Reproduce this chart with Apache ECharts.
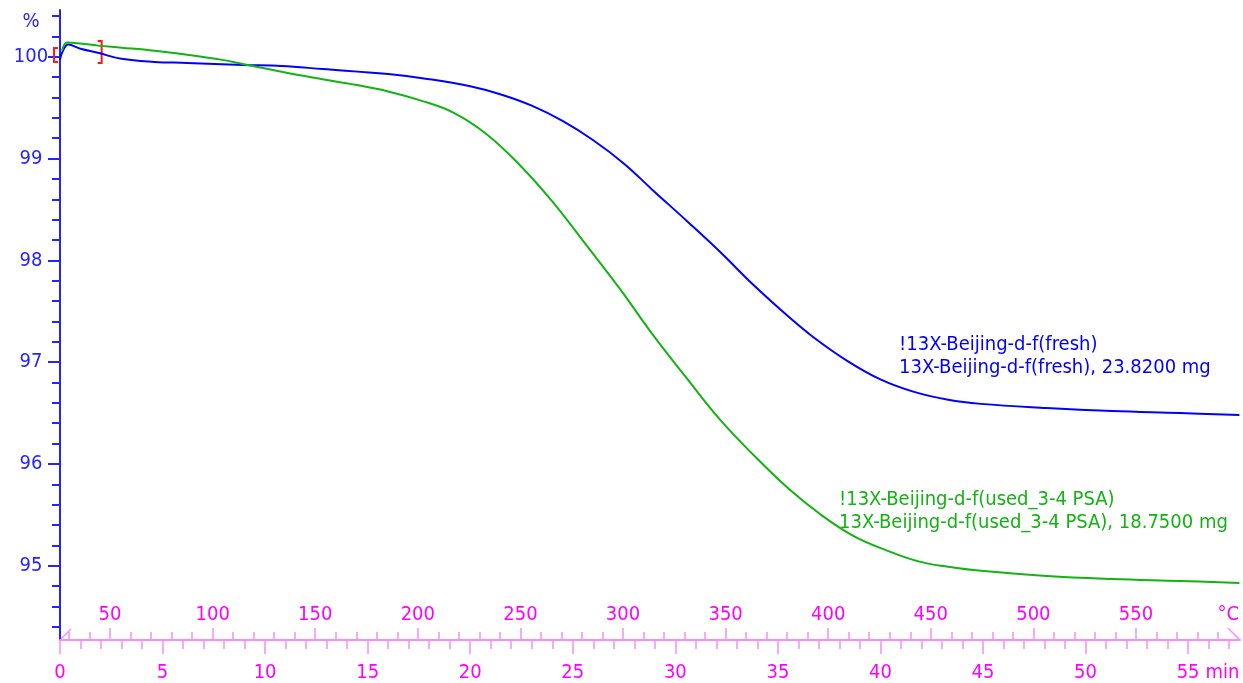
<!DOCTYPE html>
<html>
<head>
<meta charset="utf-8">
<script src="https://cdn.jsdelivr.net/npm/echarts@6/dist/echarts.min.js"></script>
<style>
  html, body { margin: 0; padding: 0; background: #ffffff; }
  #chart { width: 1243px; height: 683px; }
</style>
</head>
<body>
<div id="chart"></div>
<script>
// TGA mass curves (mass % against time in min, heating at 10 °C/min)
const freshTime = [0, 0.1, 0.4, 1.0, 1.85, 3.0, 4.6, 6.2, 8.9, 10.8, 12.8, 16.0, 18.0, 20.0, 21.5, 23.0, 24.5, 26.0, 27.5, 28.9, 30.6, 32.2, 33.8, 35.5, 36.7, 38.4, 40.0, 41.6, 43.3, 44.9, 48.1, 51.3, 54.6, 57.5];
const freshMass = [99.97, 100.04, 100.12, 100.08, 100.04, 99.98, 99.95, 99.94, 99.92, 99.91, 99.88, 99.83, 99.78, 99.71, 99.63, 99.52, 99.37, 99.18, 98.95, 98.69, 98.38, 98.08, 97.76, 97.45, 97.25, 97.01, 96.83, 96.71, 96.63, 96.59, 96.55, 96.52, 96.50, 96.48];

const usedTime = [0.1, 0.35, 1.0, 1.85, 3.0, 4.6, 6.2, 7.9, 8.9, 11.1, 12.8, 14.4, 16.0, 17.6, 19.2, 20.8, 22.4, 24.0, 25.7, 27.3, 28.9, 30.6, 32.2, 33.8, 35.5, 37.1, 38.7, 40.3, 41.9, 43.3, 44.9, 48.1, 51.3, 54.6, 57.5];
const usedMass = [100.06, 100.14, 100.13, 100.11, 100.09, 100.06, 100.02, 99.97, 99.93, 99.84, 99.78, 99.725, 99.66, 99.57, 99.45, 99.24, 98.94, 98.58, 98.14, 97.72, 97.27, 96.83, 96.43, 96.09, 95.76, 95.50, 95.29, 95.15, 95.04, 94.99, 94.95, 94.90, 94.87, 94.85, 94.83];

// Axis ticks
const massTicks = [95, 96, 97, 98, 99, 100];
const timeTicks = [0, 5, 10, 15, 20, 25, 30, 35, 40, 45, 50, 55];
const tempTicks = [50, 100, 150, 200, 250, 300, 350, 400, 450, 500, 550];

// Axis ranges
const timeRange = [0, 57.53];
const tempRange = [25.6, 600.7];
const massRange = [94.27, 100.46];

// Evaluation range brackets: time, low %, high %, serif direction
const brackets = [[-0.29, 99.95, 100.087, 1], [2.03, 99.94, 100.156, -1]];

// Curve captions and where they sit (time, mass %)
const freshCaption = ['!13X-Beijing-d-f(fresh)', '13X-Beijing-d-f(fresh), 23.8200 mg'];
const usedCaption = ['!13X-Beijing-d-f(used_3-4 PSA)', '13X-Beijing-d-f(used_3-4 PSA), 18.7500 mg'];
const freshCaptionAt = [40.91, 97.06];
const usedCaptionAt = [37.98, 95.53];

const FONT = "'DejaVu Sans Condensed', 'DejaVu Sans', sans-serif";
const BLUE = '#0000ff';
const BLUE_AXIS = '#2424ff';
const GREEN = '#12b312';
const PINK_TEXT = '#ff00ff';
const PINK_LINE = '#f58ef5';
const RED = '#ff1a1a';

function minorBetween(major, step, range) {
  const out = [];
  const lo = Math.ceil(range[0] / step) * step;
  for (let v = lo; v <= range[1] + 1e-9; v += step) {
    const r = Math.round(v * 1000) / 1000;
    if (!major.some(m => Math.abs(m - r) < 1e-6)) out.push(r);
  }
  return out;
}
const massMinor = minorBetween(massTicks, 0.2, massRange);
const timeMinor = minorBetween(timeTicks, 1, timeRange);
const tempMinor = minorBetween(tempTicks.concat([600]), 10, tempRange);

const pairs = (xs, ys) => xs.map((x, i) => [x, ys[i]]);

const chart = echarts.init(document.getElementById('chart'));

const option = {
  animation: false,
  backgroundColor: '#ffffff',
  grid: { left: 60, right: 3, top: 10, bottom: 42, containLabel: false },
  xAxis: [
    {
      // time, major ticks and labels below the line
      type: 'value', position: 'bottom', min: timeRange[0], max: timeRange[1],
      axisLine: { show: true, lineStyle: { color: PINK_LINE, width: 2 } },
      axisTick: { show: true, inside: false, length: 14, customValues: timeTicks, lineStyle: { color: PINK_LINE, width: 1.5 } },
      axisLabel: { show: true, customValues: timeTicks, margin: 23, color: PINK_TEXT, fontFamily: FONT, fontSize: 20 },
      splitLine: { show: false },
      name: 'min', nameLocation: 'end', nameGap: 0,
      nameTextStyle: { color: PINK_TEXT, fontFamily: FONT, fontSize: 20, align: 'right', verticalAlign: 'top', padding: [23, 2, 0, 0] }
    },
    {
      // time, minor ticks
      type: 'value', position: 'bottom', min: timeRange[0], max: timeRange[1],
      axisLine: { show: false },
      axisTick: { show: true, inside: false, length: 9, customValues: timeMinor, lineStyle: { color: PINK_LINE, width: 1.5 } },
      axisLabel: { show: false },
      splitLine: { show: false }
    },
    {
      // temperature, major ticks and labels above the line
      type: 'value', position: 'bottom', min: tempRange[0], max: tempRange[1],
      axisLine: { show: false },
      axisTick: { show: true, inside: true, length: 12, customValues: tempTicks, lineStyle: { color: PINK_LINE, width: 1.5 } },
      axisLabel: { show: true, inside: true, customValues: tempTicks, margin: 15, color: PINK_TEXT, fontFamily: FONT, fontSize: 20 },
      splitLine: { show: false },
      name: '°C', nameLocation: 'end', nameGap: 0,
      nameTextStyle: { color: PINK_TEXT, fontFamily: FONT, fontSize: 20, align: 'right', verticalAlign: 'bottom', padding: [0, 1, 15, 0] }
    },
    {
      // temperature, minor ticks
      type: 'value', position: 'bottom', min: tempRange[0], max: tempRange[1],
      axisLine: { show: false },
      axisTick: { show: true, inside: true, length: 8, customValues: tempMinor, lineStyle: { color: PINK_LINE, width: 1.5 } },
      axisLabel: { show: false },
      splitLine: { show: false }
    }
  ],
  yAxis: [
    {
      type: 'value', position: 'left', min: massRange[0], max: massRange[1],
      axisLine: { show: true, lineStyle: { color: BLUE_AXIS, width: 2 } },
      axisTick: { show: true, inside: false, length: 12, customValues: massTicks, lineStyle: { color: BLUE_AXIS, width: 2 } },
      axisLabel: { show: true, customValues: massTicks, margin: 29, align: 'center', color: BLUE_AXIS, fontFamily: FONT, fontSize: 20 },
      splitLine: { show: false },
      name: '%', nameLocation: 'end', nameGap: -12,
      nameTextStyle: { color: BLUE_AXIS, fontFamily: FONT, fontSize: 20, align: 'center', verticalAlign: 'middle', padding: [0, 58, 0, 0] }
    },
    {
      type: 'value', position: 'left', min: massRange[0], max: massRange[1],
      axisLine: { show: false },
      axisTick: { show: true, inside: false, length: 8, customValues: massMinor, lineStyle: { color: BLUE_AXIS, width: 2 } },
      axisLabel: { show: false },
      splitLine: { show: false }
    }
  ],
  series: [
    {
      name: 'fresh', type: 'line', xAxisIndex: 0, yAxisIndex: 0,
      data: pairs(freshTime, freshMass),
      showSymbol: false, smooth: 0.4,
      lineStyle: { color: BLUE, width: 2 },
      markPoint: {
        symbol: 'circle', symbolSize: 0, silent: true,
        data: [{ coord: freshCaptionAt }],
        label: {
          show: true, position: [0, 0], align: 'left', verticalAlign: 'middle',
          formatter: () => freshCaption.join('\n'),
          color: BLUE, fontFamily: FONT, fontSize: 20, lineHeight: 23
        }
      }
    },
    {
      name: 'used', type: 'line', xAxisIndex: 0, yAxisIndex: 0,
      data: pairs(usedTime, usedMass),
      showSymbol: false, smooth: 0.4,
      lineStyle: { color: GREEN, width: 2 },
      markPoint: {
        symbol: 'circle', symbolSize: 0, silent: true,
        data: [{ coord: usedCaptionAt }],
        label: {
          show: true, position: [0, 0], align: 'left', verticalAlign: 'middle',
          formatter: () => usedCaption.join('\n'),
          color: GREEN, fontFamily: FONT, fontSize: 20, lineHeight: 23
        }
      }
    },
    {
      name: 'range', type: 'custom', xAxisIndex: 0, yAxisIndex: 0,
      data: brackets, encode: { x: 0, y: [1, 2] }, silent: true, clip: false,
      renderItem: function (params, api) {
        const top = api.coord([api.value(0), api.value(2)]);
        const bot = api.coord([api.value(0), api.value(1)]);
        const d = api.value(3) * 4;
        return {
          type: 'polyline',
          shape: { points: [[top[0] + d, top[1]], [top[0], top[1]], [bot[0], bot[1]], [bot[0] + d, bot[1]]] },
          style: { stroke: RED, lineWidth: 2, fill: null }
        };
      }
    }
  ]
};

chart.setOption(option);

// small slanted caps at both ends of the time/temperature axis line
const a0 = chart.convertToPixel({ xAxisIndex: 0, yAxisIndex: 0 }, [timeRange[0], massRange[0]]);
const a1 = chart.convertToPixel({ xAxisIndex: 0, yAxisIndex: 0 }, [timeRange[1], massRange[0]]);
chart.setOption({
  graphic: [
    { type: 'line', shape: { x1: a0[0], y1: a0[1], x2: a0[0] + 11, y2: a0[1] - 11 }, style: { stroke: PINK_LINE, lineWidth: 1.5 }, silent: true },
    { type: 'line', shape: { x1: a1[0] - 12, y1: a1[1] - 12, x2: a1[0], y2: a1[1] }, style: { stroke: PINK_LINE, lineWidth: 1.5 }, silent: true }
  ]
});
</script>
</body>
</html>
